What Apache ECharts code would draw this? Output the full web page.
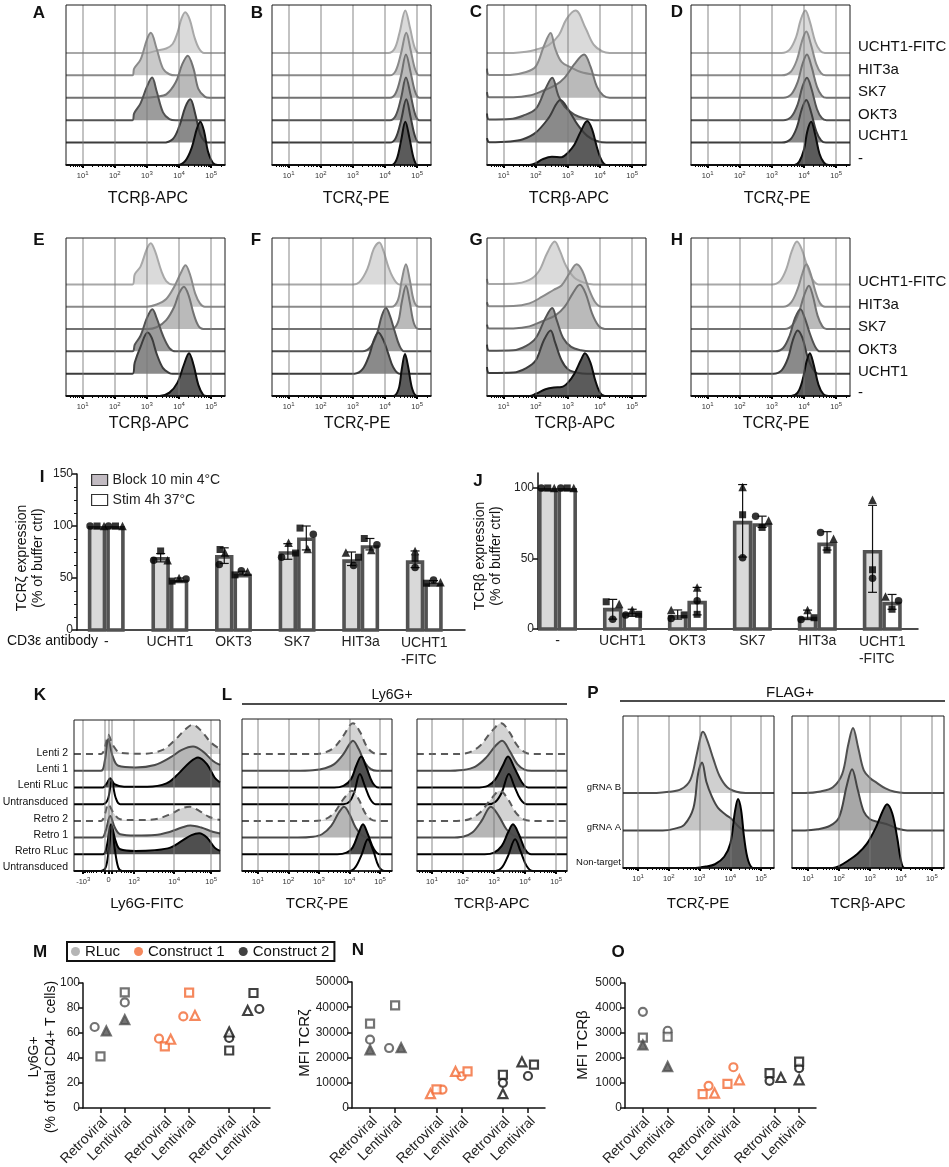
<!DOCTYPE html>
<html>
<head>
<meta charset="utf-8">
<title>TCR downregulation by CD3ε antibodies</title>
<script src="https://cdn.jsdelivr.net/npm/echarts@6.0.0/dist/echarts.min.js"></script>
<style>
html,body{margin:0;padding:0;background:#fff;}
#chart{width:949px;height:1167px;}
</style>
</head>
<body>
<div id="chart"></div>
<script>
// ================= Flow cytometry histograms =================
// Each curve is a list of [log10 intensity, height] pairs (height in units of layer spacing).
// Curves are listed from the top layer down to the bottom layer.
const stackLabels = ['UCHT1-FITC', 'HIT3a', 'SK7', 'OKT3', 'UCHT1', '-'];

const histA = [
  [[3.0,0],[3.3,0.1],[3.6,0.2],[3.8,0.4],[3.95,0.9],[4.08,1.55],[4.19,1.82],[4.33,1.5],[4.48,0.7],[4.62,0.2],[4.78,0]],
  [[2.55,0],[2.6,0.3],[2.8,0.7],[3.0,1.6],[3.12,1.9],[3.3,1.2],[3.5,0.3],[3.7,0.05],[3.9,0]],
  [[2.9,0],[3.3,0.05],[3.6,0.15],[3.9,0.7],[4.1,1.5],[4.27,1.88],[4.45,1.3],[4.6,0.4],[4.8,0.05],[4.95,0]],
  [[2.55,0],[2.6,0.3],[2.8,0.75],[3.0,1.5],[3.16,1.9],[3.3,1.3],[3.5,0.35],[3.7,0.05],[3.9,0]],
  [[3.5,0],[3.8,0.15],[4.0,0.7],[4.2,1.6],[4.35,1.93],[4.5,1.3],[4.65,0.4],[4.8,0.05],[4.9,0]],
  [[3.95,0],[4.2,0.2],[4.4,0.8],[4.55,1.6],[4.66,1.93],[4.78,1.5],[4.9,0.6],[5.05,0.1],[5.2,0]]
];
const histB = [
  [[4.1,0],[4.3,0.2],[4.45,0.9],[4.63,1.9],[4.78,1.1],[4.92,0.25],[5.05,0]],
  [[4.15,0],[4.33,0.2],[4.5,1.0],[4.66,1.9],[4.8,1.1],[4.94,0.25],[5.07,0]],
  [[4.15,0],[4.33,0.2],[4.5,1.0],[4.65,1.93],[4.8,1.1],[4.94,0.25],[5.07,0]],
  [[4.15,0],[4.33,0.2],[4.5,1.0],[4.65,1.9],[4.8,1.1],[4.94,0.25],[5.07,0]],
  [[4.15,0],[4.33,0.2],[4.5,1.0],[4.66,1.93],[4.8,1.1],[4.94,0.25],[5.07,0]],
  [[4.2,0],[4.36,0.25],[4.5,1.1],[4.63,1.93],[4.76,1.2],[4.9,0.25],[5.02,0]]
];
const histC = [
  [[1.3,0],[1.7,0.05],[2.0,0.15],[2.4,0.35],[2.72,0.8],[2.95,1.5],[3.24,1.89],[3.55,1.1],[3.8,0.37],[4.07,0.07],[4.3,0]],
  [[0.48,0.3],[0.55,0.02],[1.2,0.02],[1.7,0.15],[2.0,0.4],[2.25,1.3],[2.46,1.89],[2.6,1.2],[2.8,0.6],[3.1,0.35],[3.4,0.15],[3.8,0.03],[4.1,0]],
  [[0.48,0.25],[0.55,0.02],[1.3,0.02],[1.8,0.1],[2.2,0.3],[2.6,0.55],[2.9,0.9],[3.2,1.5],[3.5,1.93],[3.7,1.4],[3.9,0.5],[4.1,0.1],[4.3,0]],
  [[0.48,0.3],[0.55,0.03],[1.2,0.05],[1.6,0.2],[2.0,0.5],[2.3,1.4],[2.51,1.89],[2.7,1.1],[2.9,0.6],[3.2,0.25],[3.5,0.08],[3.8,0]],
  [[0.48,0.2],[0.55,0.02],[1.2,0.05],[1.6,0.15],[2.0,0.45],[2.4,1.1],[2.77,1.9],[3.0,1.5],[3.3,0.8],[3.6,0.3],[3.9,0.07],[4.2,0]],
  [[1.8,0],[2.0,0.08],[2.2,0.25],[2.5,0.37],[2.8,0.35],[3.0,0.55],[3.2,0.9],[3.4,1.5],[3.6,1.96],[3.75,1.6],[3.9,0.8],[4.05,0.2],[4.2,0]]
];
const histD = [
  [[3.3,0],[3.55,0.15],[3.75,0.7],[3.9,1.5],[4.04,1.89],[4.18,1.4],[4.35,0.5],[4.5,0.1],[4.65,0]],
  [[3.3,0],[3.58,0.15],[3.78,0.7],[3.93,1.5],[4.07,1.96],[4.21,1.4],[4.38,0.5],[4.53,0.1],[4.68,0]],
  [[3.35,0],[3.6,0.15],[3.8,0.7],[3.95,1.5],[4.09,1.93],[4.23,1.4],[4.4,0.5],[4.55,0.1],[4.7,0]],
  [[3.35,0],[3.6,0.15],[3.8,0.7],[3.95,1.5],[4.09,1.89],[4.23,1.4],[4.4,0.5],[4.55,0.1],[4.7,0]],
  [[3.3,0],[3.58,0.15],[3.78,0.7],[3.93,1.5],[4.07,1.9],[4.21,1.4],[4.38,0.5],[4.53,0.1],[4.68,0]],
  [[3.7,0],[3.85,0.15],[4.0,0.7],[4.1,1.5],[4.22,1.93],[4.34,1.4],[4.48,0.5],[4.62,0.1],[4.77,0]]
];
const histE = [
  [[2.55,0],[2.62,0.45],[2.8,0.8],[3.0,1.6],[3.12,1.85],[3.25,1.5],[3.45,0.6],[3.6,0.15],[3.8,0]],
  [[3.0,0],[3.3,0.1],[3.6,0.35],[3.85,0.9],[4.05,1.5],[4.2,1.86],[4.35,1.4],[4.5,0.6],[4.65,0.15],[4.8,0]],
  [[3.0,0],[3.3,0.08],[3.6,0.4],[3.85,1.0],[4.0,1.6],[4.15,1.9],[4.3,1.5],[4.45,0.7],[4.6,0.15],[4.75,0]],
  [[2.55,0],[2.62,0.3],[2.8,0.7],[3.0,1.5],[3.17,1.89],[3.3,1.5],[3.5,0.7],[3.7,0.15],[3.9,0]],
  [[2.55,0],[2.62,0.5],[2.8,1.2],[3.02,1.85],[3.15,1.6],[3.3,0.9],[3.5,0.25],[3.7,0.03],[3.8,0]],
  [[3.4,0],[3.7,0.15],[3.95,0.6],[4.15,1.4],[4.31,1.92],[4.45,1.4],[4.6,0.5],[4.75,0.05],[4.85,0]]
];
const histF = [
  [[3.0,0],[3.2,0.1],[3.45,0.7],[3.65,1.6],[3.82,1.88],[3.95,1.5],[4.1,0.8],[4.25,0.3],[4.45,0]],
  [[4.2,0],[4.4,0.3],[4.52,1.2],[4.65,1.9],[4.77,1.2],[4.9,0.25],[5.05,0]],
  [[4.2,0],[4.4,0.3],[4.52,1.2],[4.65,1.94],[4.77,1.2],[4.9,0.25],[5.05,0]],
  [[3.3,0],[3.55,0.2],[3.75,0.8],[3.9,1.6],[4.03,1.94],[4.15,1.6],[4.3,0.9],[4.45,0.25],[4.6,0]],
  [[3.05,0],[3.3,0.2],[3.5,0.8],[3.65,1.5],[3.79,1.85],[3.95,1.5],[4.1,0.9],[4.25,0.3],[4.45,0]],
  [[4.25,0],[4.42,0.3],[4.52,1.2],[4.62,1.88],[4.72,1.3],[4.85,0.3],[5.0,0]]
];
const histG = [
  [[0.48,0.25],[0.55,0.02],[1.3,0.03],[1.8,0.2],[2.1,0.6],[2.35,1.4],[2.59,1.92],[2.75,1.5],[2.95,0.8],[3.2,0.3],[3.5,0.08],[3.8,0]],
  [[0.48,0.2],[0.55,0.02],[1.3,0.03],[1.8,0.15],[2.2,0.45],[2.55,0.75],[2.8,0.95],[3.05,1.5],[3.27,1.9],[3.45,1.6],[3.65,0.8],[3.85,0.2],[4.05,0]],
  [[0.48,0.2],[0.55,0.02],[1.3,0.03],[1.8,0.12],[2.2,0.35],[2.6,0.6],[2.9,1.0],[3.15,1.6],[3.37,1.98],[3.55,1.6],[3.75,0.7],[3.95,0.15],[4.15,0]],
  [[0.48,0.3],[0.55,0.03],[1.3,0.05],[1.7,0.25],[2.0,0.6],[2.3,1.5],[2.51,1.94],[2.65,1.4],[2.85,0.6],[3.1,0.2],[3.4,0.05],[3.7,0]],
  [[0.48,0.3],[0.55,0.03],[1.3,0.05],[1.7,0.25],[2.0,0.6],[2.25,1.5],[2.46,1.94],[2.6,1.4],[2.8,0.6],[3.0,0.2],[3.3,0.04],[3.6,0]],
  [[1.8,0],[2.0,0.1],[2.3,0.3],[2.56,0.38],[2.8,0.4],[3.0,0.6],[3.2,1.0],[3.4,1.6],[3.53,1.92],[3.7,1.5],[3.85,0.7],[4.0,0.15],[4.15,0]]
];
const histH = [
  [[3.0,0],[3.25,0.15],[3.45,0.7],[3.62,1.5],[3.78,1.92],[3.92,1.6],[4.08,0.9],[4.25,0.25],[4.45,0]],
  [[3.35,0],[3.6,0.2],[3.8,0.8],[3.95,1.5],[4.07,1.9],[4.2,1.5],[4.35,0.7],[4.5,0.15],[4.65,0]],
  [[3.4,0],[3.65,0.2],[3.85,0.8],[4.0,1.5],[4.15,1.94],[4.27,1.5],[4.42,0.6],[4.57,0.12],[4.7,0]],
  [[3.1,0],[3.35,0.15],[3.55,0.7],[3.72,1.5],[3.89,1.89],[4.02,1.5],[4.18,0.8],[4.35,0.2],[4.5,0]],
  [[3.05,0],[3.3,0.15],[3.5,0.7],[3.65,1.5],[3.8,1.94],[3.95,1.6],[4.1,0.8],[4.28,0.2],[4.45,0]],
  [[3.6,0],[3.8,0.15],[3.95,0.7],[4.07,1.5],[4.18,1.92],[4.3,1.4],[4.45,0.5],[4.6,0.08],[4.75,0]]
];

// Ly6G / TCR histograms of transduced cells (top layer first)
const kLabels = ['Lenti 2', 'Lenti 1', 'Lenti RLuc', 'Untransduced', 'Retro 2', 'Retro 1', 'Retro RLuc', 'Untransduced'];
const kKinds  = ['two', 'one', 'rluc', 'un', 'two', 'one', 'rluc', 'un'];
// K is on a biexponential display scale (x = display position)
const kTickPos  = [1.64, 2.30, 2.96, 4.0, 4.96];
const kTickText = [['-10', '3'], ['0', ''], ['10', '3'], ['10', '4'], ['10', '5']];
const histK = [
  [[1.4,0],[2.1,0],[2.2,0.4],[2.29,1.15],[2.42,0.5],[2.6,0.08],[3.2,0.02],[3.7,0.25],[4.0,0.8],[4.3,1.5],[4.47,1.75],[4.7,1.4],[4.95,0.7],[5.19,0.3]],
  [[1.4,0],[2.1,0],[2.2,0.6],[2.29,1.9],[2.4,0.9],[2.55,0.3],[3.0,0.2],[3.5,0.35],[3.9,0.8],[4.2,1.25],[4.49,1.45],[4.75,1.15],[5.0,0.6],[5.19,0.35]],
  [[1.4,0],[2.15,0],[2.25,0.25],[2.34,0.55],[2.45,0.2],[2.7,0.05],[3.3,0.05],[3.8,0.25],[4.1,0.8],[4.4,1.5],[4.62,1.8],[4.85,1.4],[5.05,0.6],[5.19,0.3]],
  [[1.4,0],[2.15,0],[2.28,0.3],[2.38,1.4],[2.48,0.4],[2.6,0],[5.19,0]],
  [[1.4,0],[2.1,0],[2.2,0.4],[2.29,1.0],[2.42,0.5],[2.6,0.1],[3.0,0.05],[3.5,0.1],[3.9,0.4],[4.2,0.75],[4.4,0.85],[4.65,0.6],[4.9,0.25],[5.19,0.05]],
  [[1.4,0],[2.12,0],[2.22,0.4],[2.34,1.3],[2.46,0.6],[2.6,0.2],[3.0,0.12],[3.5,0.15],[3.9,0.35],[4.2,0.6],[4.42,0.72],[4.7,0.6],[5.0,0.35],[5.19,0.25]],
  [[1.4,0],[2.15,0],[2.25,0.5],[2.36,1.8],[2.48,0.8],[2.6,0.3],[3.0,0.2],[3.5,0.25],[3.9,0.4],[4.2,0.8],[4.45,1.15],[4.65,1.26],[4.85,1.0],[5.05,0.4],[5.19,0.2]],
  [[1.4,0],[2.1,0],[2.22,0.2],[2.3,1.2],[2.38,2.6],[2.46,1.3],[2.55,0.2],[2.65,0],[5.19,0]]
];
const histL1 = [
  [[2.8,0],[3.2,0.1],[3.5,0.4],[3.8,1.1],[4.11,1.85],[4.35,1.3],[4.55,0.5],[4.75,0.1],[4.95,0]],
  [[2.2,0],[2.8,0.03],[3.2,0.15],[3.5,0.4],[3.8,1.0],[4.0,1.6],[4.11,1.8],[4.3,1.3],[4.5,0.5],[4.7,0.1],[4.9,0]],
  [[3.5,0],[3.8,0.1],[4.05,0.5],[4.22,1.3],[4.38,1.85],[4.55,1.2],[4.75,0.3],[4.95,0]],
  [[3.8,0],[4.0,0.15],[4.15,0.7],[4.34,1.8],[4.5,1.1],[4.68,0.3],[4.85,0]],
  [[2.8,0],[3.2,0.1],[3.5,0.5],[3.8,1.3],[4.08,1.8],[4.3,1.3],[4.5,0.5],[4.7,0.1],[4.9,0]],
  [[2.3,0],[2.8,0.05],[3.1,0.2],[3.4,0.7],[3.65,1.5],[3.82,1.85],[4.0,1.4],[4.2,0.6],[4.4,0.15],[4.6,0]],
  [[3.6,0],[3.9,0.1],[4.1,0.4],[4.3,1.3],[4.44,1.8],[4.6,1.2],[4.8,0.3],[5.0,0]],
  [[4.0,0],[4.2,0.25],[4.4,1.0],[4.6,1.9],[4.78,1.2],[4.95,0.3],[5.15,0]]
];
const histL2 = [
  [[1.8,0],[2.2,0.1],[2.55,0.5],[2.9,1.3],[3.23,1.85],[3.5,1.3],[3.75,0.5],[4.0,0.1],[4.2,0]],
  [[1.4,0],[2.0,0.05],[2.4,0.25],[2.75,0.8],[3.05,1.5],[3.26,1.8],[3.5,1.2],[3.75,0.4],[4.0,0.05],[4.2,0]],
  [[2.4,0],[2.8,0.1],[3.05,0.5],[3.28,1.3],[3.45,1.85],[3.65,1.2],[3.9,0.3],[4.1,0]],
  [[2.8,0],[3.05,0.15],[3.25,0.7],[3.48,1.8],[3.65,1.1],[3.85,0.3],[4.05,0]],
  [[1.8,0],[2.2,0.1],[2.55,0.5],[2.9,1.3],[3.19,1.8],[3.45,1.3],[3.7,0.5],[3.95,0.1],[4.2,0]],
  [[1.6,0],[2.0,0.05],[2.3,0.3],[2.6,1.0],[2.9,1.85],[3.15,1.3],[3.4,0.5],[3.65,0.1],[3.9,0]],
  [[2.7,0],[3.0,0.1],[3.25,0.5],[3.45,1.3],[3.61,1.8],[3.8,1.2],[4.0,0.3],[4.2,0]],
  [[3.05,0],[3.25,0.2],[3.45,0.9],[3.68,1.9],[3.85,1.2],[4.05,0.3],[4.25,0]]
];

// FLAG+ cells after CRISPR knockout (top layer first)
const pLabels = ['gRNA B', 'gRNA A', 'Non-target'];
const histP1 = [
  [[1.6,0],[2.0,0.03],[2.4,0.1],[2.7,0.35],[2.9,1.0],[3.05,1.55],[3.11,1.63],[3.25,1.4],[3.45,0.9],[3.65,0.45],[3.9,0.15],[4.2,0.03],[4.5,0]],
  [[1.8,0],[2.2,0.05],[2.5,0.15],[2.8,0.6],[2.95,1.5],[3.08,1.81],[3.22,1.3],[3.4,0.9],[3.6,0.6],[3.85,0.42],[4.05,0.3],[4.3,0.08],[4.5,0]],
  [[2.8,0],[3.2,0.04],[3.5,0.1],[3.8,0.3],[4.0,0.65],[4.15,1.5],[4.25,1.84],[4.35,1.55],[4.45,0.8],[4.58,0.2],[4.75,0]]
];
const histP2 = [
  [[0.9,0],[1.4,0.04],[1.8,0.15],[2.1,0.5],[2.3,1.3],[2.45,1.73],[2.62,1.2],[2.8,0.6],[3.0,0.4],[3.2,0.28],[3.5,0.12],[3.8,0.03],[4.1,0]],
  [[0.9,0],[1.3,0.03],[1.7,0.12],[2.0,0.35],[2.25,1.2],[2.42,1.63],[2.6,1.1],[2.8,0.5],[3.0,0.3],[3.3,0.22],[3.6,0.15],[3.9,0.05],[4.2,0]],
  [[1.8,0],[2.0,0.05],[2.3,0.2],[2.6,0.38],[2.9,0.65],[3.2,1.1],[3.4,1.5],[3.55,1.7],[3.72,1.45],[3.88,0.8],[4.0,0.2],[4.12,0]]
];

// ================= Bar charts I and J (% of buffer control) =================
const barCats = ['-', 'UCHT1', 'OKT3', 'SK7', 'HIT3a', 'UCHT1-FITC'];
const conditions = ['Block 10 min 4°C', 'Stim 4h 37°C'];
// replicate points per category: [circle, square, triangle]
const I_blockMean = [100, 70.3, 72, 75.8, 68, 67];
const I_blockPts  = [[100,100,100],[67,76,67],[63,77.4,74.5],[70,74,84],[62,70,74.5],[60,69,76]];
const I_blockErr  = [null,[65.5,73.5],[64,79],[68,83],[62,75],[60,76]];
const I_blockJit  = [[-1,0,1],[-1,0,1],[-0.7,-0.6,0.1],[-0.9,1.1,0.1],[0.3,1,-0.8],[0,0,0]];
const I_stimMean  = [100, 48.4, 54, 89, 81.6, 45];
const I_stimPts   = [[100,100,100],[49,47,50],[57,53,56],[92,98,78],[82,88,77],[48,45,46]];
const I_stimErr   = [null,[47,50],[53,56.5],[77,100],[77,88],[45,47.5]];
const I_stimJit   = [[-1,0,1],[1,-1,0],[-0.2,-1.1,0.7],[1,-0.9,0.2],[1,-0.8,0.2],[0,-1,1]];

const J_blockMean = [100, 15, 10, 76.7, 8.7, 56];
const J_blockPts  = [[100,100,100],[7,19.3,17.7],[7.5,10,13.4],[50.5,81,100.7],[6.8,8,13.4],[36,42,91.7]];
const J_blockErr  = [null,[7,21],[7,13.5],[51,102.4],[7,13.4],[26,87.7]];
const J_blockJit  = [[-1,0,1],[0,-1,1],[-1,1,-1],[0,0,0],[-1,1,0],[0,0,0]];
const J_stimMean  = [100, 11.6, 20, 75, 61.3, 19.3];
const J_stimPts   = [[100,100,100],[10,10.4,13.4],[20,10.4,29.5],[80,72,77],[68.4,56,64],[20,14,23]];
const J_stimErr   = [null,[9,14],[10,29.5],[72,80],[56,69],[14,24.5]];
const J_stimJit   = [[-1,0,1],[-1,1,0],[0,0,0],[-1,0,1],[-1,0,1],[1,0,-1]];

// ================= Dot plots M, N, O =================
const groupNames = ['Retroviral', 'Lentiviral'];
const constructs = ['RLuc', 'Construct 1', 'Construct 2'];
// rows: RLuc retro, RLuc lenti, C1 retro, C1 lenti, C2 retro, C2 lenti; [circle, square, triangle]
const M_vals = [[64.8,41.3,61.6],[84.5,92.5,70.7],[55.5,49.3,55.0],[73.3,92.3,74.1],[56.0,46.0,60.8],[79.2,92.0,78.0]];
const M_jit  = [[-1,0,1],[0,0,0],[-1,0,1],[-1,0,1],[0,0,0],[1,0,-1]];
const N_vals = [[27100,33500,23100],[23800,40700,23900],[7300,7400,5700],[12600,14500,14500],[10000,13200,5700],[12700,17200,18300]];
const N_jit  = [[0,0,0],[-1,0,1],[1,0,-1],[0,1,-1],[0,0,0],[0,1,-1]];
const O_vals = [[3846,2812,2520],[3090,2851,1658],[889,557,597],[1631,968,1127],[1088,1392,1220],[1592,1857,1127]];
const O_jit  = [[0,0,0],[0,0,0],[0,-1,1],[0,-1,1],[-0.8,-0.8,1.1],[0,0,0]];

// ================= Styles and builders =================
const FONT = '"Liberation Sans", Arial, Helvetica, sans-serif';
const stackStyles = [
  { line: '#a8a8a8', fill: '#dadada' },
  { line: '#8a8a8a', fill: '#c9c9c9' },
  { line: '#727272', fill: '#bababa' },
  { line: '#525252', fill: '#9c9c9c' },
  { line: '#3c3c3c', fill: '#8a8a8a' },
  { line: '#0d0d0d', fill: '#5b5b5b' }
];
const kindStyle = {
  two:  { line: '#5a5a5a', fill: '#d3d3d3', dash: true },
  one:  { line: '#4a4a4a', fill: '#b6b6b6' },
  rluc: { line: '#000000', fill: '#4f4f4f' },
  un:   { line: '#000000', fill: null }
};
const pStyles1 = [{ line: '#505050', fill: '#d0d0d0' }, { line: '#454545', fill: '#c6c6c6' }, { line: '#000', fill: '#5e5e5e' }];
const pStyles2 = [{ line: '#505050', fill: '#b9b9b9' }, { line: '#454545', fill: '#a7a7a7' }, { line: '#000', fill: '#5e5e5e' }];
const syms = ['circle', 'rect', 'triangle'];

const option = {
  animation: false,
  backgroundColor: '#ffffff',
  textStyle: { fontFamily: FONT },
  grid: [], xAxis: [], yAxis: [], series: [], legend: [],
  graphic: { elements: [] }
};

function addGrid(cfg) {
  option.grid.push(Object.assign({ containLabel: false, outerBoundsMode: 'none' }, cfg));
  return option.grid.length - 1;
}

function logMinors(lo, hi) {
  const out = [];
  for (let d = 0; d <= 5; d++) {
    for (let k = 2; k <= 9; k++) {
      const v = d + Math.log10(k);
      if (v > lo && v < hi) out.push(v);
    }
  }
  return out;
}
function kMinors() {
  const out = [];
  for (let k = 2; k <= 9; k++) {
    out.push(2.96 + Math.log10(k) * 1.04, 4.0 + Math.log10(k) * 0.96);
    out.push(2.30 + Math.log10(k) * 0.66, 2.30 - Math.log10(k) * 0.66);
  }
  return out;
}

const expRich = {
  b: { fontSize: 7.5, color: '#333', fontFamily: FONT },
  e: { fontSize: 6, color: '#333', fontFamily: FONT, padding: [0, 0, 6, 0] }
};
const decadeFmt = v => '{b|10}{e|' + Math.round(v) + '}';
const kFmt = v => {
  const i = kTickPos.findIndex(q => Math.abs(q - v) < 1e-6);
  const t = kTickText[i] || ['', ''];
  return t[1] ? '{b|' + t[0] + '}{e|' + t[1] + '}' : '{b|' + t[0] + '}';
};
const plainNum = v => String(Math.round(v));

function histPanel(p) {
  const gi = addGrid({ left: p.left, top: p.top, width: p.width, height: p.height, show: true,
    borderColor: '#1a1a1a', borderWidth: 1, backgroundColor: 'rgba(0,0,0,0)', z: 4 });
  const xi = option.xAxis.length;
  option.xAxis.push({
    gridIndex: gi, type: 'value', min: p.xmin, max: p.xmax, position: 'bottom', z: 3,
    axisLine: { show: true, onZero: false, lineStyle: { color: '#000', width: 1.5 } },
    axisTick: { show: true, customValues: p.gridVals, length: 3, lineStyle: { color: '#000', width: 2 } },
    axisLabel: { show: true, customValues: p.labelVals, formatter: p.fmt, margin: 5, rich: expRich },
    splitLine: { show: true, lineStyle: { color: 'rgba(120,120,120,0.6)', width: 1.5 } }
  }, {
    gridIndex: gi, type: 'value', min: p.xmin, max: p.xmax, position: 'bottom', z: 3,
    axisLine: { show: false }, axisLabel: { show: false }, splitLine: { show: false },
    axisTick: { show: true, customValues: p.minorVals, length: 2, lineStyle: { color: '#000', width: 1 } }
  });
  const yi = option.yAxis.length;
  option.yAxis.push({ gridIndex: gi, type: 'value', min: 0, max: p.ymax, show: false });
  const n = p.curves.length;
  p.curves.forEach((c, k) => {
    const base = n - 1 - k;
    const pts = c.map(d => [d[0], base + d[1]]);
    if (c[0][0] > p.xmin) pts.unshift([p.xmin, base]);
    if (c[c.length - 1][0] < p.xmax) pts.push([p.xmax, base]);
    const st = p.styles[k];
    const s = {
      type: 'line', xAxisIndex: xi, yAxisIndex: yi, data: pts, smooth: 0.35,
      symbol: 'none', silent: true, z: 2,
      lineStyle: { color: st.line, width: 2, type: st.dash ? [7, 5] : 'solid' }
    };
    if (st.fill) s.areaStyle = { color: st.fill, opacity: 1, origin: base };
    option.series.push(s);
  });
}

// ---- rows of stacked histograms (A-D, E-H) ----
const rowPanels = [[66, histA, histE], [272, histB, histF], [487, histC, histG], [691, histD, histH]];
rowPanels.forEach(([left, top1, top2]) => {
  [[5, 160, 7.14, top1], [238, 158, 7.08, top2]].forEach(([top, h, ymax, curves]) => {
    histPanel({
      left, top, width: 159, height: h, xmin: 0.48, xmax: 5.43, ymax, curves, styles: stackStyles,
      gridVals: [1, 2, 3, 4, 5], labelVals: [1, 2, 3, 4, 5], fmt: decadeFmt, minorVals: logMinors(0.48, 5.43)
    });
  });
});

// ---- K, L, P ----
histPanel({
  left: 74, top: 720, width: 146, height: 151, xmin: 1.40, xmax: 5.19, ymax: 9.04, curves: histK,
  styles: kKinds.map(k => kindStyle[k]),
  gridVals: [1.64, 2.21, 2.30, 2.38, 2.96, 4.0, 4.96], labelVals: kTickPos, fmt: kFmt, minorVals: kMinors()
});
[[242, 0.48, 5.39, histL1], [417, 0.52, 5.35, histL2]].forEach(([left, xmin, xmax, curves]) => {
  histPanel({
    left, top: 719, width: 150, height: 152, xmin, xmax, ymax: 9.1, curves,
    styles: kKinds.map(k => kindStyle[k]),
    gridVals: [1, 2, 3, 4, 5], labelVals: [1, 2, 3, 4, 5], fmt: decadeFmt, minorVals: logMinors(xmin, xmax)
  });
});
[[623, 151, 0.51, 5.42, histP1, pStyles1], [792, 152, 0.48, 5.39, histP2, pStyles2]].forEach(([left, w, xmin, xmax, curves, styles]) => {
  histPanel({
    left, top: 716, width: w, height: 152, xmin, xmax, ymax: 4.05, curves, styles,
    gridVals: [1, 2, 3, 4, 5], labelVals: [1, 2, 3, 4, 5], fmt: decadeFmt, minorVals: logMinors(xmin, xmax)
  });
});

// ---- bar panels I and J ----
function barPanel(p) {
  const gi = addGrid({ left: p.left, top: p.top, width: p.width, height: p.height });
  const xi = option.xAxis.length, yi = option.yAxis.length;
  option.xAxis.push({
    gridIndex: gi, type: 'value', min: p.xmin, max: p.xmax,
    axisLine: { show: true, onZero: false, lineStyle: { color: '#111', width: 1.5 } },
    axisTick: { show: false }, splitLine: { show: false },
    axisLabel: {
      customValues: barCats.map((c, i) => i), margin: 5, color: '#222', fontSize: 14,
      formatter: v => {
        const c = barCats[Math.round(v)];
        return c.indexOf('-FITC') > 0 ? '{l|' + c.replace('-FITC', '') + '}\n{l|-FITC}' : c;
      },
      rich: { l: { align: 'left', fontSize: 14, color: '#222', lineHeight: 17, fontFamily: FONT } }
    }
  });
  option.yAxis.push(p.yAxis(gi));
  const halves = [[-p.bw, 0], [0, p.bw]];
  const fills = ['#d9d9d9', '#ffffff'];
  [p.block, p.stim].forEach((grp, s) => {
    const lo = halves[s][0], hi = halves[s][1];
    const mid = (lo + hi) / 2;
    option.series.push({
      type: 'custom', name: conditions[s], xAxisIndex: xi, yAxisIndex: yi, z: 2, silent: true,
      encode: { x: 0, y: 1 },
      data: grp.mean.map((v, i) => [i, v]),
      renderItem: (params, api) => {
        const x = api.value(0), y = api.value(1);
        const a = api.coord([x + lo, 0]), b = api.coord([x + hi, y]);
        const lw = 3.6;
        return {
          type: 'rect',
          shape: { x: a[0] + lw / 2, y: b[1] + lw / 2, width: b[0] - a[0] - lw, height: a[1] - b[1] - lw / 2 },
          style: { fill: fills[s], stroke: '#525252', lineWidth: lw }
        };
      }
    });
    option.series.push({
      type: 'custom', xAxisIndex: xi, yAxisIndex: yi, z: 3, silent: true,
      encode: { x: 0, y: [1, 2] },
      data: grp.err.map((e, i) => (e ? [i + mid, e[0], e[1]] : null)).filter(Boolean),
      renderItem: (params, api) => {
        const a = api.coord([api.value(0), api.value(1)]), b = api.coord([api.value(0), api.value(2)]);
        const cap = 4.5, st = { stroke: '#111', lineWidth: 1.2 };
        return {
          type: 'group', children: [
            { type: 'line', shape: { x1: a[0], y1: a[1], x2: b[0], y2: b[1] }, style: st },
            { type: 'line', shape: { x1: b[0] - cap, y1: b[1], x2: b[0] + cap, y2: b[1] }, style: st },
            { type: 'line', shape: { x1: a[0] - cap, y1: a[1], x2: a[0] + cap, y2: a[1] }, style: st }
          ]
        };
      }
    });
    const pts = [];
    grp.pts.forEach((trip, i) => trip.forEach((v, m) => {
      pts.push({ value: [i + mid + grp.jit[i][m] * p.ju, v], symbol: syms[m], symbolSize: m === 2 ? 8.5 : (m === 1 ? 7 : 7.5) });
    }));
    option.series.push({ type: 'scatter', xAxisIndex: xi, yAxisIndex: yi, z: 4, silent: true, data: pts, itemStyle: { color: '#000' } });
  });
}

barPanel({
  left: 77, top: 474, width: 388, height: 156, xmin: -0.46, xmax: 5.64, bw: 0.29, ju: 0.11,
  block: { mean: I_blockMean, pts: I_blockPts, err: I_blockErr, jit: I_blockJit },
  stim: { mean: I_stimMean, pts: I_stimPts, err: I_stimErr, jit: I_stimJit },
  yAxis: gi => ({
    gridIndex: gi, type: 'value', min: 0, max: 150, interval: 50,
    axisLine: { show: true, onZero: false, lineStyle: { color: '#111', width: 1.5 } },
    axisTick: { show: true, length: 5, lineStyle: { color: '#111', width: 1.5 } },
    minorTick: { show: true, splitNumber: 4, length: 3, lineStyle: { color: '#111', width: 1 } },
    axisLabel: { margin: 4, fontSize: 12, color: '#222' }, splitLine: { show: false }, minorSplitLine: { show: false }
  })
});
barPanel({
  left: 538, top: 473, width: 380, height: 156, xmin: -0.3, xmax: 5.55, bw: 0.3, ju: 0.1,
  block: { mean: J_blockMean, pts: J_blockPts, err: J_blockErr, jit: J_blockJit },
  stim: { mean: J_stimMean, pts: J_stimPts, err: J_stimErr, jit: J_stimJit },
  yAxis: gi => ({
    gridIndex: gi, type: 'value', min: 0, max: 110.6,
    axisLine: { show: true, onZero: false, lineStyle: { color: '#111', width: 1.5 } },
    axisTick: { show: true, customValues: [0, 50, 100], length: 5, lineStyle: { color: '#111', width: 1.5 } },
    axisLabel: { customValues: [0, 50, 100], margin: 4, fontSize: 12, color: '#222' }, splitLine: { show: false }
  })
});

// ---- dot plots M, N, O ----
const groupGap = 2.65;
const groupPos = [0, 1, groupGap, groupGap + 1, 2 * groupGap, 2 * groupGap + 1];
const constructColors = ['#505050', '#f26a35', '#111111'];
function dotPanel(p) {
  const gi = addGrid({ left: p.left, top: p.top, width: p.width, height: p.height });
  const xi = option.xAxis.length, yi = option.yAxis.length;
  option.xAxis.push({
    gridIndex: gi, type: 'value', min: -0.72, max: 6.98,
    axisLine: { show: true, onZero: false, lineStyle: { color: '#111', width: 1.5 } },
    axisTick: { show: true, customValues: groupPos, length: 5, lineStyle: { color: '#111', width: 1.5 } },
    axisLabel: {
      customValues: groupPos, rotate: 45, margin: 6, fontSize: 14, color: '#222', verticalAlign: 'top',
      formatter: v => groupNames[groupPos.findIndex(q => Math.abs(q - v) < 1e-6) % 2]
    },
    splitLine: { show: false }
  });
  option.yAxis.push({
    gridIndex: gi, type: 'value', min: 0, max: p.ymax, interval: p.step,
    axisLine: { show: true, onZero: false, lineStyle: { color: '#111', width: 1.5 } },
    axisTick: { show: true, length: 5, lineStyle: { color: '#111', width: 1.5 } },
    axisLabel: { margin: 3, fontSize: 12, color: '#222', formatter: plainNum }, splitLine: { show: false }
  });
  constructs.forEach((name, c) => {
    const data = [];
    for (let g = 0; g < 2; g++) {
      const gIdx = 2 * c + g;
      p.vals[gIdx].forEach((v, m) => {
        const item = { value: [groupPos[gIdx] + p.jit[gIdx][m] * 0.24, v], symbol: syms[m], symbolSize: m === 2 ? 9 : 8 };
        if (m === 2 && c === 0) item.itemStyle = { color: constructColors[c] };
        data.push(item);
      });
    }
    option.series.push({
      type: 'scatter', name, xAxisIndex: xi, yAxisIndex: yi, z: 3, silent: true, data,
      itemStyle: { color: '#ffffff', borderColor: constructColors[c], borderWidth: 2.2 }
    });
  });
}
dotPanel({ left: 83, top: 983, width: 187, height: 125, ymax: 100, step: 20, vals: M_vals, jit: M_jit });
dotPanel({ left: 352, top: 982, width: 193, height: 126, ymax: 50000, step: 10000, vals: N_vals, jit: N_jit });
dotPanel({ left: 625, top: 983, width: 191, height: 125, ymax: 5000, step: 1000, vals: O_vals, jit: O_jit });

// ---- legends ----
option.legend.push({
  left: 91, top: 473, orient: 'vertical', itemWidth: 16, itemHeight: 11, itemGap: 6, padding: 0,
  selectedMode: false, textStyle: { fontSize: 14, color: '#222' },
  data: [
    { name: conditions[0], icon: 'rect', itemStyle: { color: '#c2bbc2', borderColor: '#333', borderWidth: 1.2 } },
    { name: conditions[1], icon: 'rect', itemStyle: { color: '#ffffff', borderColor: '#333', borderWidth: 1.2 } }
  ]
});
option.legend.push({
  left: 67, top: 942, orient: 'horizontal', itemWidth: 9, itemHeight: 9, itemGap: 14,
  padding: [2, 5, 2, 4], borderColor: '#111', borderWidth: 2, selectedMode: false,
  textStyle: { fontSize: 15, color: '#111' },
  data: constructs.map((name, c) => ({
    name, icon: 'circle', itemStyle: { color: ['#a3a3a3', '#f26a35', '#111111'][c], borderWidth: 0 }
  }))
});

// ---- free text ----
function txt(x, y, text, size, extra) {
  const e = Object.assign({ align: 'center', weight: 'normal', rot: 0, lh: null }, extra || {});
  const style = { text, fontSize: size, fontFamily: FONT, fontWeight: e.weight, fill: '#111', align: e.align, verticalAlign: 'middle' };
  if (e.lh) style.lineHeight = e.lh;
  option.graphic.elements.push({ type: 'text', x, y, rotation: e.rot, silent: true, style });
}
function hline(x1, x2, y) {
  option.graphic.elements.push({ type: 'line', silent: true, shape: { x1, y1: y, x2, y2: y }, style: { stroke: '#111', lineWidth: 1.3 } });
}

[['A', 39, 13], ['B', 257, 13], ['C', 476, 12], ['D', 677, 12], ['E', 39, 240], ['F', 256, 240], ['G', 476, 240], ['H', 677, 240],
 ['I', 42, 477], ['J', 478, 481], ['K', 40, 695], ['L', 227, 695], ['P', 593, 693], ['M', 40, 952], ['N', 358, 950], ['O', 618, 952]]
  .forEach(([t, x, y]) => txt(x, y, t, 17, { weight: 'bold' }));

[[148, 'TCRβ-APC'], [356, 'TCRζ-PE'], [569, 'TCRβ-APC'], [777, 'TCRζ-PE']].forEach(([x, t]) => txt(x, 199, t, 16));
[[149, 'TCRβ-APC'], [357, 'TCRζ-PE'], [575, 'TCRβ-APC'], [776, 'TCRζ-PE']].forEach(([x, t]) => txt(x, 424, t, 16));
const row1LabelY = [47, 70, 92, 115, 136, 159];
const row2LabelY = [282, 305, 327, 350, 372, 393];
stackLabels.forEach((t, i) => { txt(858, row1LabelY[i], t, 15, { align: 'left' }); txt(858, row2LabelY[i], t, 15, { align: 'left' }); });

const kLabelY = [753, 769, 785, 802, 819, 835, 851, 867];
kLabels.forEach((t, i) => txt(68, kLabelY[i], t, 10.5, { align: 'right' }));
const pLabelY = [787, 827, 862];
pLabels.forEach((t, i) => txt(621, pLabelY[i], t, 9.5, { align: 'right' }));

txt(392, 695, 'Ly6G+', 14); hline(242, 567, 704);
txt(790, 693, 'FLAG+', 15); hline(620, 945, 701);
[[147, 'Ly6G-FITC'], [317, 'TCRζ-PE'], [492, 'TCRβ-APC'], [698, 'TCRζ-PE'], [868, 'TCRβ-APC']].forEach(([x, t]) => txt(x, 904, t, 15));

txt(30, 558, 'TCRζ expression\n(% of buffer ctrl)', 14, { rot: Math.PI / 2, lh: 16 });
txt(488, 556, 'TCRβ expression\n(% of buffer ctrl)', 14, { rot: Math.PI / 2, lh: 16 });
txt(7, 641, 'CD3ε antibody', 14, { align: 'left' });
txt(43, 1057, 'Ly6G+\n(% of total CD4+ T cells)', 14, { rot: Math.PI / 2, lh: 17 });
txt(305, 1043, 'MFI TCRζ', 15, { rot: Math.PI / 2 });
txt(583, 1045, 'MFI TCRβ', 15, { rot: Math.PI / 2 });

const chart = echarts.init(document.getElementById('chart'), null, { renderer: 'canvas' });
chart.setOption(option);
</script>
</body>
</html>
